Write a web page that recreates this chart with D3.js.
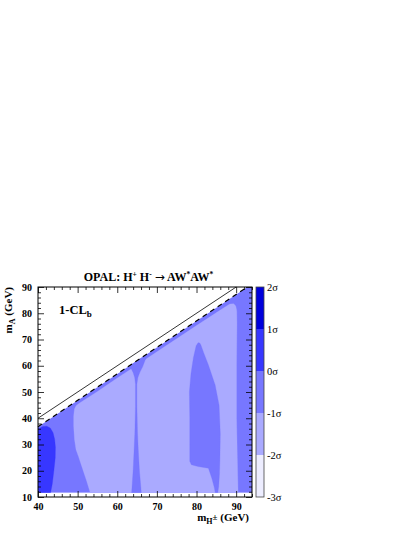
<!DOCTYPE html>
<html>
<head>
<meta charset="utf-8">
<script src="https://cdnjs.cloudflare.com/ajax/libs/d3/7.8.5/d3.min.js"></script>
<style>
  body { margin: 0; background: #fff; }
  svg text { font-family: "Liberation Serif", "Times New Roman", serif; }
</style>
</head>
<body>
<div id="chart"></div>
<script>
// ---- data (GeV) ----
var X_TICKS = [40, 50, 60, 70, 80, 90];
var Y_TICKS = [10, 20, 30, 40, 50, 60, 70, 80, 90];
var SIGMA_LEVELS = [-3, -2, -1, 0, 1, 2];
var SIGMA_LABELS = ["-3\u03c3", "-2\u03c3", "-1\u03c3", "0\u03c3", "1\u03c3", "2\u03c3"];
var BAND_COLORS = ["#ededff", "#aaaaff", "#7777ff", "#3737ff", "#0000dc"];

// kinematic lines: mA = mH (solid) and the edge of the scanned region (dashed)
var LIMIT_LINE = [[40, 40], [90, 90]];
var SCAN_EDGE = [[40, 36.8], [92.8, 90]];

// contour regions, [mH, mA]
var scanRegion = [[40, 11.6], [94, 11.6], [94, 90], [92.8, 90], [40, 36.8]];          // -1..0
var lightRegion = [[53.3, 11], [52.3, 16], [51.2, 21], [50.2, 25.5], [49.6, 28], [49.2, 32],
  [49.0, 37], [49.0, 41], [49.2, 43.5], [49.6, 44.8], [50.4, 45.7], [55, 50.2], [60, 55.3],
  [63, 58.3], [70, 65.3], [80, 75.3], [86, 81.2], [88.4, 83.5], [89.4, 83.6], [89.9, 82.8],
  [90.15, 81], [90.2, 76], [90.1, 60], [90.1, 40], [90.3, 25], [90.5, 11]];             // -2..-1
var spikeRegion = [[62.4, 62], [63.4, 59.2], [64.0, 57.4], [64.4, 55.5], [64.6, 53], [64.6, 45],
  [64.45, 35], [64.25, 28], [64.0, 20], [63.6, 11], [66.1, 11], [65.6, 20], [65.3, 28],
  [65.1, 35], [64.95, 45], [64.95, 53], [65.2, 55.5], [65.7, 57.5], [66.4, 59.6], [67.5, 64]]; // -1..0
var fingerRegion = [[80.4, 68.8], [79.9, 67.6], [79.2, 63], [78.6, 57], [78.2, 50], [78.3, 40],
  [78.3, 30], [78.3, 23.6], [78.7, 22.3], [80.4, 21.6], [83.0, 21.0], [83.9, 17], [84.5, 13.5],
  [84.8, 11], [85.3, 11], [85.6, 14], [85.8, 19], [85.9, 24], [86.0, 34], [85.7, 45],
  [84.7, 52.7], [83.0, 60.3], [81.8, 65], [81.1, 67.9], [80.8, 68.7]];                 // -1..0
var coreRegion = [[39, 11], [43.1, 11], [43.6, 15], [44.0, 20], [44.35, 25], [44.4, 29],
  [44.2, 32], [43.8, 34.5], [43.1, 36.3], [42.2, 37], [41.2, 36.9], [40.4, 36.2], [39, 35.8]]; // 0..1

// drawing order: region, colour band index
var LAYERS = [
  [scanRegion, 2], [lightRegion, 1], [spikeRegion, 2], [fingerRegion, 2], [coreRegion, 3]
];

// ---- setup ----
var W = 415, H = 537;
var svg = d3.select("#chart").append("svg")
  .attr("width", W).attr("height", H);

var x = d3.scaleLinear().domain([40, 94]).range([38, 252]);
var y = d3.scaleLinear().domain([10, 90]).range([497, 287]);
var cb = d3.scaleLinear().domain([-3, 2]).range([497, 287]);

var line = d3.line().x(function(d){ return x(d[0]); }).y(function(d){ return y(d[1]); });

svg.append("clipPath").attr("id", "scan")
  .append("path").attr("d", line(scanRegion) + "Z");

// contour fills
svg.append("g").attr("clip-path", "url(#scan)")
  .selectAll("path")
  .data(LAYERS)
  .enter().append("path")
  .attr("d", function(d){ return line(d[0]) + "Z"; })
  .attr("fill", function(d){ return BAND_COLORS[d[1]]; })
  .attr("stroke", function(d){ return BAND_COLORS[d[1]]; })
  .attr("stroke-width", 0.3);

// kinematic lines
svg.append("path").attr("d", line(LIMIT_LINE))
  .attr("stroke", "#000").attr("stroke-width", 0.8).attr("fill", "none");
svg.append("path").attr("d", line(SCAN_EDGE))
  .attr("stroke", "#000").attr("stroke-width", 1.2).attr("fill", "none")
  .attr("stroke-dasharray", "5,4");

// ---- axes, ticks inside on all four sides ----
function minor(lo, hi, skip) {
  return d3.range(lo, hi + 0.01, 2).filter(function(v){ return skip.indexOf(v) < 0; });
}
var xMinor = minor(40, 94, X_TICKS), yMinor = minor(10, 90, Y_TICKS);

function styleAxis(g, labels) {
  g.select(".domain").remove();
  g.selectAll("line").attr("stroke", "#000").attr("stroke-width", 0.8);
  g.attr("font-family", "Liberation Serif, serif").attr("font-size", 10)
   .attr("font-weight", "bold");
  if (!labels) g.selectAll("text").remove();
}

function addAxis(axis, tx, ty, ticks, size, labels) {
  var g = svg.append("g").attr("transform", "translate(" + tx + "," + ty + ")")
    .call(axis.tickValues(ticks).tickSize(-size).tickSizeOuter(0).tickPadding(6));
  styleAxis(g, labels);
}

addAxis(d3.axisBottom(x), 0, 497, X_TICKS, 6, true);
addAxis(d3.axisBottom(x), 0, 497, xMinor, 3, false);
addAxis(d3.axisTop(x), 0, 287, X_TICKS, 6, false);
addAxis(d3.axisTop(x), 0, 287, xMinor, 3, false);
addAxis(d3.axisLeft(y), 38, 0, Y_TICKS, 6, true);
addAxis(d3.axisLeft(y), 38, 0, yMinor, 3, false);
addAxis(d3.axisRight(y), 252, 0, Y_TICKS, 6, false);
addAxis(d3.axisRight(y), 252, 0, yMinor, 3, false);

svg.append("rect")
  .attr("x", 38).attr("y", 287).attr("width", 214).attr("height", 210)
  .attr("fill", "none").attr("stroke", "#000").attr("stroke-width", 1);

// ---- colour bar ----
var bands = d3.range(BAND_COLORS.length);
svg.append("g").selectAll("rect")
  .data(bands)
  .enter().append("rect")
  .attr("x", 256).attr("width", 8)
  .attr("y", function(i){ return cb(SIGMA_LEVELS[i + 1]); })
  .attr("height", function(i){ return cb(SIGMA_LEVELS[i]) - cb(SIGMA_LEVELS[i + 1]); })
  .attr("fill", function(i){ return BAND_COLORS[i]; });
svg.append("rect")
  .attr("x", 256).attr("y", cb(2)).attr("width", 8).attr("height", cb(-3) - cb(2))
  .attr("fill", "none").attr("stroke", "#444").attr("stroke-width", 0.8);
svg.append("g").selectAll("text")
  .data(SIGMA_LEVELS)
  .enter().append("text")
  .attr("x", 267)
  .attr("y", function(d){ return cb(d) + 3.5; })
  .attr("font-size", 10.5)
  .text(function(d, i){ return SIGMA_LABELS[i]; });

// ---- labels ----
var title = svg.append("text")
  .attr("x", 148.5).attr("y", 281)
  .attr("text-anchor", "middle")
  .attr("font-size", 12).attr("font-weight", "bold");
title.append("tspan").text("OPAL: H");
title.append("tspan").attr("dy", -4.5).attr("font-size", 7.5).text("+");
title.append("tspan").attr("dy", 4.5).text(" H");
title.append("tspan").attr("dy", -4.5).attr("font-size", 7.5).text("-");
title.append("tspan").attr("dy", 4.5).text(" ");
title.append("tspan").attr("font-family", "DejaVu Sans").attr("font-weight", "normal")
  .attr("font-size", 12).text("\u2192");
title.append("tspan").text(" AW");
title.append("tspan").attr("dy", -4.5).attr("font-size", 7.5).text("*");
title.append("tspan").attr("dy", 4.5).text("AW");
title.append("tspan").attr("dy", -4.5).attr("font-size", 7.5).text("*");

var cl = svg.append("text")
  .attr("x", 59).attr("y", 313.5)
  .attr("font-size", 12.5).attr("font-weight", "bold");
cl.append("tspan").text("1-CL");
cl.append("tspan").attr("dy", 3).attr("font-size", 9).text("b");

var yl = svg.append("text")
  .attr("transform", "translate(12,287) rotate(-90)")
  .attr("text-anchor", "end")
  .attr("font-size", 11).attr("font-weight", "bold");
yl.append("tspan").text("m");
yl.append("tspan").attr("dy", 2.5).attr("font-size", 8).text("A");
yl.append("tspan").attr("dy", -2.5).text(" (GeV)");

var xl = svg.append("text")
  .attr("x", 249).attr("y", 521)
  .attr("text-anchor", "end")
  .attr("font-size", 11).attr("font-weight", "bold");
xl.append("tspan").text("m");
xl.append("tspan").attr("dy", 3).attr("font-size", 8).text("H");
xl.append("tspan").attr("dy", -4).attr("font-size", 9).text("\u00b1");
xl.append("tspan").attr("dy", 1).text(" (GeV)");
</script>
</body>
</html>
